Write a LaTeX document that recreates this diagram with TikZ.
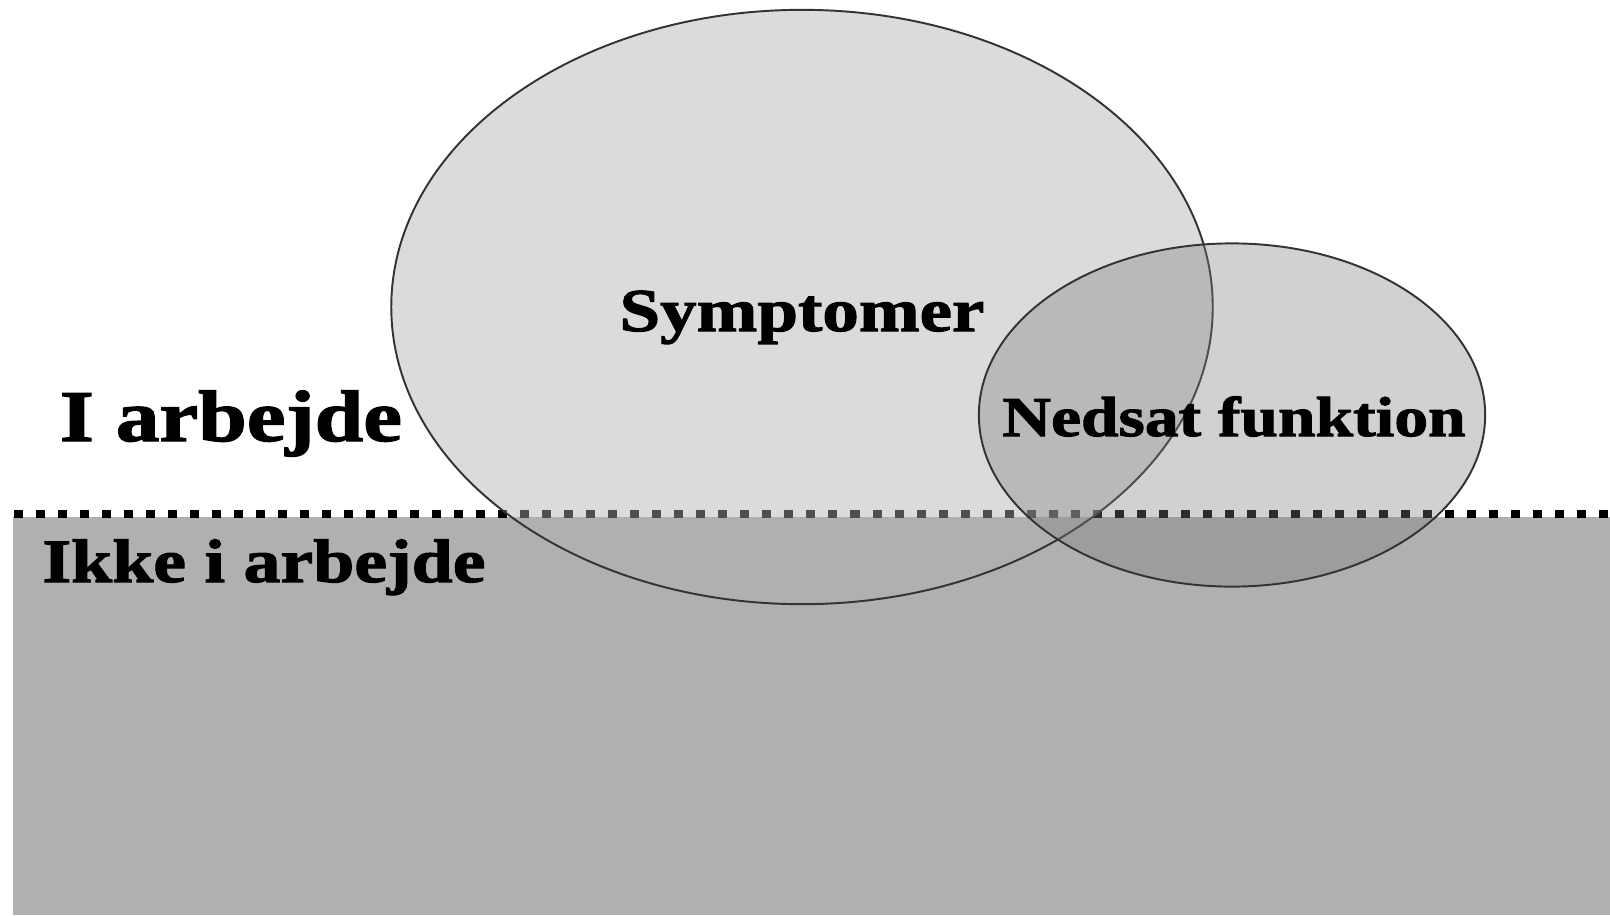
\documentclass[tikz,border=0pt]{standalone}
\usepackage{fontspec}
\setmainfont{Liberation Serif}[FakeStretch=1.2,BoldFeatures={FakeBold=1.8}]
\usepackage{tikz}
\usetikzlibrary{calc}
\definecolor{ground}{gray}{0.69}
\definecolor{rim}{gray}{0.2}
\tikzset{
    label text/.style={inner sep=0pt, anchor=base, font=\bfseries},
    blob/.style={draw=rim, line width=0.55pt, fill=ground, fill opacity=0.45},
}

\begin{document}
\begin{tikzpicture}[x=0.01cm, y=-0.01cm]
    \useasboundingbox (0,0) rectangle (1610,915);
    \fill[ground] (13,517) rectangle (1610,915);
    \draw[line width=0.85mm, dash pattern=on 0.9mm off 1.3mm] (14,514) -- (1610,514);
    \draw[blob] (802,307) ellipse [x radius=4.105cm, y radius=2.97cm];
    \draw[blob, fill=black!51, fill opacity=0.355] (1232,415) ellipse [x radius=2.53cm, y radius=1.715cm];
    \node[label text, font=\bfseries\fontsize{20.7}{24}\selectfont] (work) at (231,441) {I arbejde};
    \node[label text, font=\bfseries\fontsize{17.5}{21}\selectfont] (nowork) at (264,582) {Ikke i arbejde};
    \node[label text, font=\bfseries\fontsize{17.3}{21}\selectfont] (symp) at (802,331) {Symptomer};
    \node[label text, font=\bfseries\fontsize{16}{19}\selectfont] (func) at (1234,436) {Nedsat funktion};
\end{tikzpicture}
\end{document}
